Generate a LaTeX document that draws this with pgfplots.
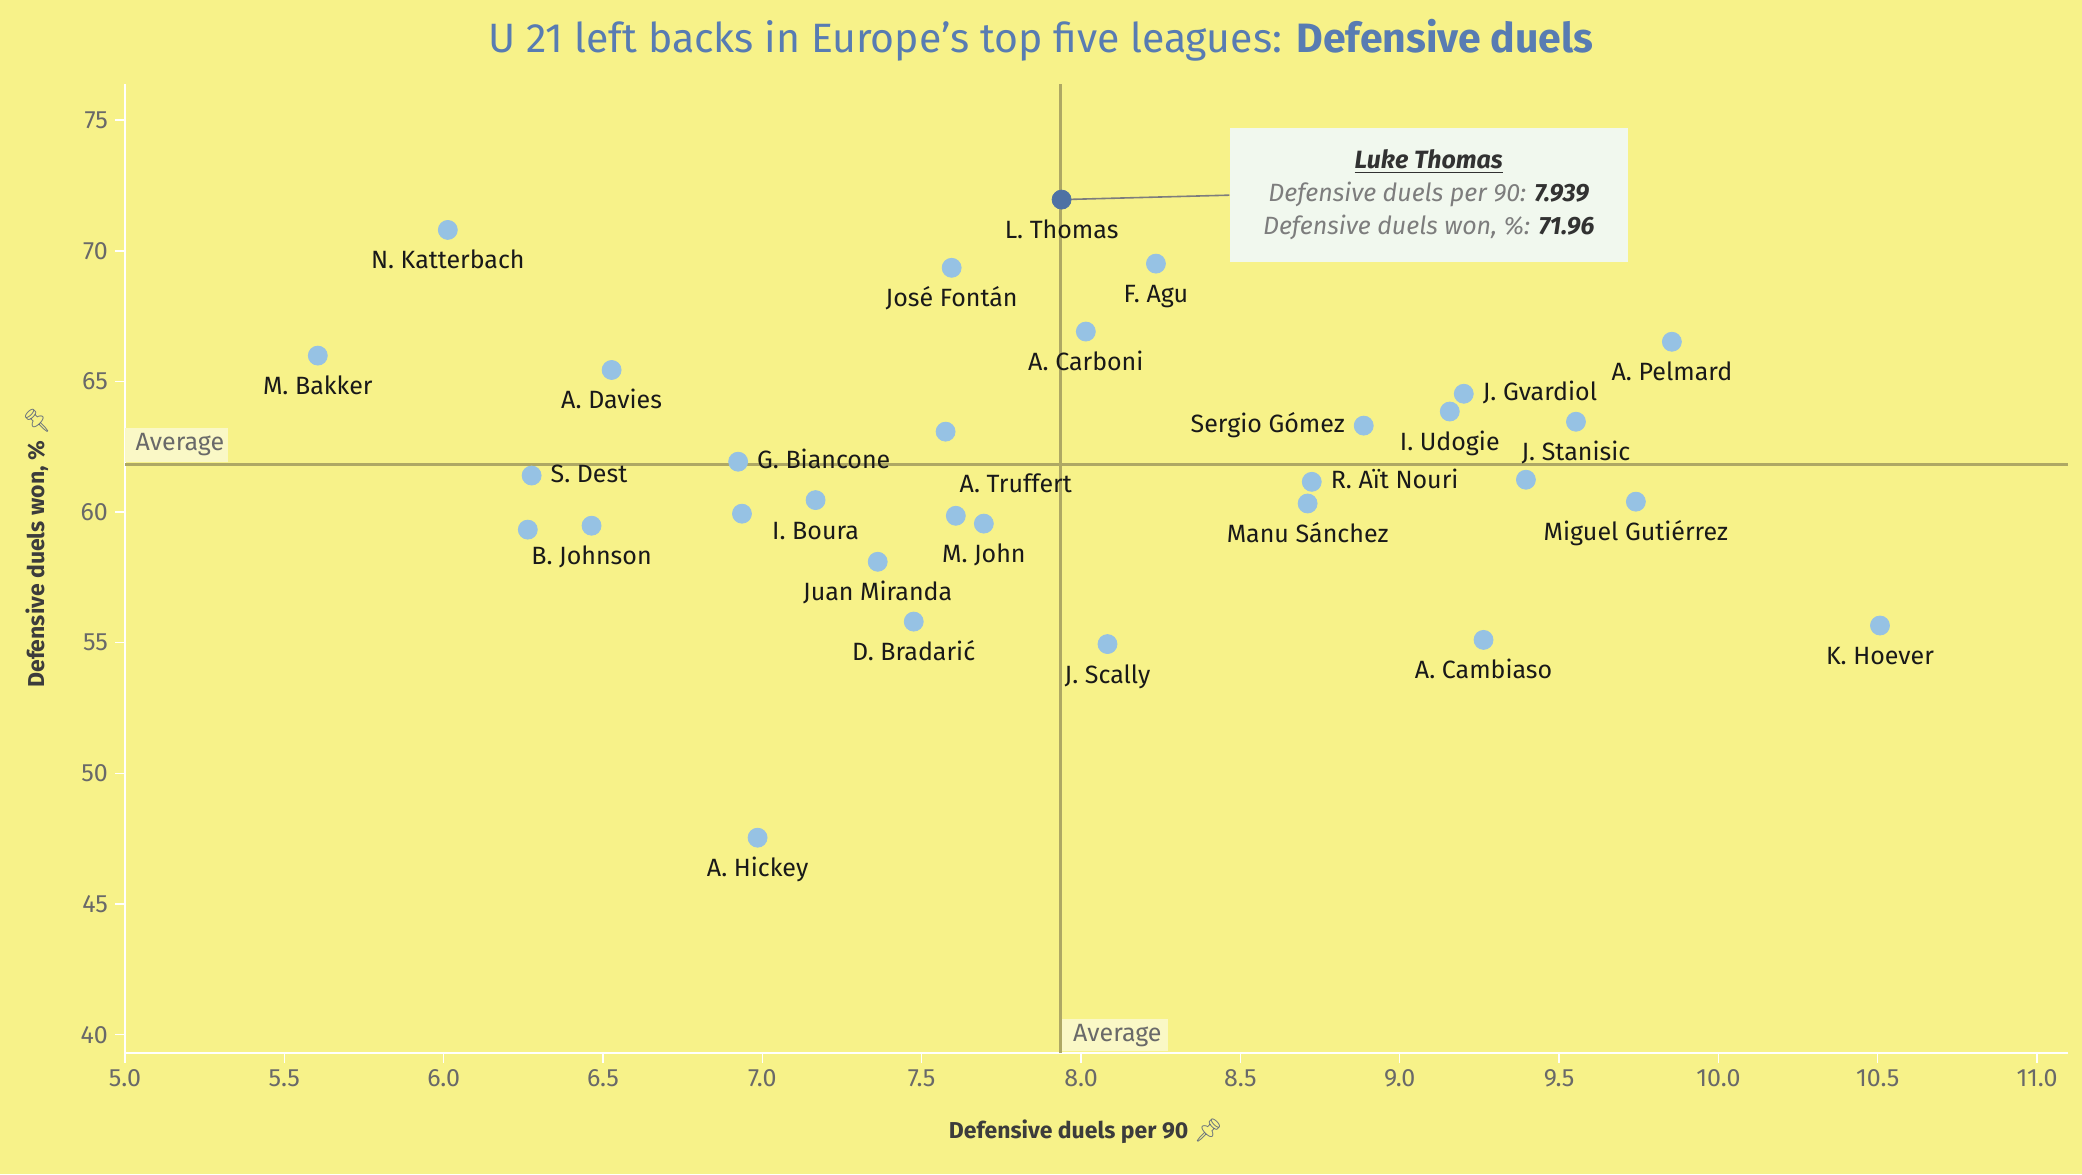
\documentclass[border=0pt]{standalone}
\usepackage{fontspec}
\usepackage{pgfplots}
\usepackage{pgfplotstable}
\pgfplotsset{compat=1.18}
\setmainfont{Fira Sans}
\newfontfamily\emoji{Noto Emoji}

\definecolor{bg}{RGB}{247,242,137}
\definecolor{ptblue}{RGB}{150,194,228}
\definecolor{thomas}{RGB}{78,114,164}
\definecolor{avgline}{RGB}{174,168,100}
\definecolor{avgbox}{RGB}{250,248,198}
\definecolor{titlecol}{RGB}{88,124,178}
\definecolor{labcol}{RGB}{25,25,25}
\definecolor{tickcol}{RGB}{105,105,105}
\definecolor{axtitle}{RGB}{60,60,60}
\definecolor{pincol}{RGB}{100,110,125}
\definecolor{ttbox}{RGB}{241,248,238}
\definecolor{ttgray}{RGB}{125,125,125}
\definecolor{ttdark}{RGB}{50,50,50}

% x = defensive duels per 90, y = defensive duels won %
% names set below the dot
\pgfplotstableread{
x y name
6.013 70.80 {N. Katterbach}
5.605 65.99 {M. Bakker}
6.527 65.44 {A. Davies}
7.594 69.35 {José Fontán}
8.235 69.51 {F. Agu}
8.015 66.91 {A. Carboni}
9.854 66.52 {A. Pelmard}
9.157 63.85 {I. Udogie}
9.553 63.46 {J. Stanisic}
8.711 60.33 {Manu Sánchez}
9.741 60.40 {Miguel Gutiérrez}
10.507 55.66 {K. Hoever}
9.263 55.11 {A. Cambiaso}
8.083 54.95 {J. Scally}
7.475 55.81 {D. Bradarić}
7.362 58.10 {Juan Miranda}
7.695 59.56 {M. John}
7.167 60.46 {I. Boura}
6.464 59.48 {B. Johnson}
6.985 47.54 {A. Hickey}
}\below
% names set right of the dot
\pgfplotstableread{
x y name
9.201 64.53 {J. Gvardiol}
8.724 61.16 {R. Aït Nouri}
6.924 61.93 {G. Biancone}
6.276 61.40 {S. Dest}
}\right
% names set left of the dot
\pgfplotstableread{
x y name
8.887 63.31 {Sergio Gómez}
}\left
% name shifted up and right
\pgfplotstableread{
x y name
7.607 59.86 {A. Truffert}
}\shifted
% dots without a name
\pgfplotstableread{
x y
9.396 61.24
7.575 63.08
6.936 59.94
6.264 59.33
}\nolabel

\newcommand{\lab}{\fontsize{12.5}{15}\selectfont}

\begin{document}
\begin{tikzpicture}
\fill[bg] (0,0) rectangle (1041pt,587pt);
\useasboundingbox (0,0) rectangle (1041pt,587pt);

\node[anchor=base, text=titlecol, font=\fontsize{20.5}{24}\selectfont] at (520.5pt,560.5pt)
  {U 21 left backs in Europe’s top five leagues: \textbf{Defensive duels}};

\begin{axis}[
  at={(62.5pt,60.7pt)}, anchor=south west,
  width=971.5pt, height=484.3pt, scale only axis,
  xmin=5, xmax=11.097, ymin=39.315, ymax=76.385,
  axis x line*=bottom, axis y line*=left,
  axis line style={draw=white, line width=1pt},
  xtick={5,5.5,...,11}, ytick={40,45,...,75},
  tick align=outside, major tick length=5pt,
  tick style={draw=white, line width=0.7pt},
  xticklabel style={/pgf/number format/.cd, fixed, fixed zerofill, precision=1},
  /pgf/number format/assume math mode=true,
  ticklabel style={font=\lab, text=tickcol},
  clip=false,
  dots/.style={color=ptblue, only marks, mark=*, mark size=4.75pt},
  named/.style={dots, point meta=explicit symbolic, nodes near coords,
    every node near coord/.append style={font=\lab, text=labcol, inner sep=0pt,
      text height=0.7em, text depth=0pt, #1}},
]
% average lines
\addplot[avgline, line width=1.5pt] coordinates {(5,61.84) (11.097,61.84)};
\addplot[avgline, line width=1.5pt] coordinates {(7.935,39.315) (7.935,76.385)};

\node[anchor=south west, fill=avgbox, inner sep=0pt, minimum width=51.5pt, minimum height=17pt,
  text=tickcol, font=\lab, yshift=0.8pt] at (axis cs:5,61.84) {\hspace{3pt}Average\hfill};
\node[anchor=south west, fill=avgbox, inner sep=0pt, minimum width=53pt, minimum height=16pt,
  text=tickcol, font=\lab, xshift=0.8pt, yshift=0.5pt] at (axis cs:7.935,39.315) {\hspace{2pt}Average\hfill};

% players
\addplot[dots] table[x=x, y=y] {\nolabel};
\addplot[named={anchor=center, yshift=-16pt}] table[x=x, y=y, meta=name] {\below};
\addplot[named={anchor=west, xshift=9.3pt}] table[x=x, y=y, meta=name] {\right};
\addplot[named={anchor=east, xshift=-9.3pt}] table[x=x, y=y, meta=name] {\left};
\addplot[named={anchor=center, xshift=30pt, yshift=14.9pt}] table[x=x, y=y, meta=name] {\shifted};

% highlighted player
\addplot[color=thomas, only marks, mark=*, mark size=4.75pt,
  nodes near coords={L. Thomas},
  every node near coord/.append style={anchor=center, yshift=-16pt,
    font=\lab, text=labcol, inner sep=0pt, text height=0.7em, text depth=0pt},
] coordinates {(7.939,71.96)};

% tooltip
\node[fill=ttbox, minimum width=199pt, minimum height=67pt, align=center, inner sep=0pt,
  font=\fontsize{12.5}{16.5}\selectfont] (tt) at (axis cs:9.091,72.13)
  {{\color{ttdark}\bfseries\itshape\underline{Luke Thomas}}\\
   {\color{ttgray}\itshape Defensive duels per 90: }{\color{ttdark}\bfseries\itshape 7.939}\\
   {\color{ttgray}\itshape Defensive duels won, \%: }{\color{ttdark}\bfseries\itshape 71.96}};
\draw[ttgray, line width=0.8pt] (axis cs:7.939,71.96) -- (tt.west);
\end{axis}

\node[text=axtitle, font=\fontsize{11.5}{14}\selectfont\bfseries] at (543pt,21.5pt)
  {Defensive duels per 90 {\color{pincol}\emoji 📌}};
\node[rotate=90, text=axtitle, font=\fontsize{11.5}{14}\selectfont\bfseries] at (18.5pt,313.5pt)
  {Defensive duels won, \% {\color{pincol}\emoji 📌}};
\end{tikzpicture}
\end{document}
